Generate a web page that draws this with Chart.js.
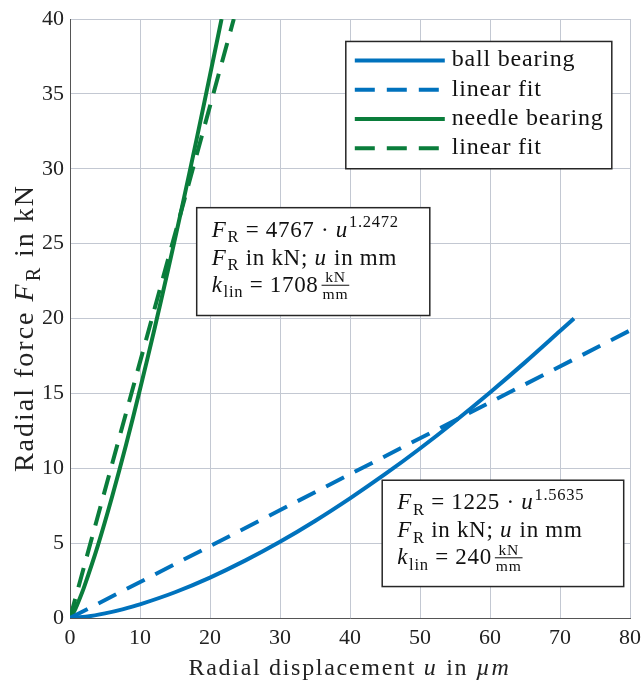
<!DOCTYPE html>
<html>
<head>
<meta charset="utf-8">
<script src="https://cdn.jsdelivr.net/npm/chart.js@4"></script>
<style>
  html, body { margin: 0; padding: 0; background: #fff; }
  #wrap { width: 641px; height: 680px; }
</style>
</head>
<body>
<div id="wrap"><canvas id="forceChart" width="641" height="680"></canvas></div>
<script>
// Data (u in µm, F in kN)
const ballU = [0, 2.5, 5, 7.5, 10, 15, 20, 25, 30, 35, 40, 45, 50, 55, 60, 65, 70, 72];
const ballF = [0, 0.10, 0.31, 0.58, 0.91, 1.72, 2.70, 3.83, 5.09, 6.48, 7.99, 9.60, 11.32, 13.14, 15.06, 17.07, 19.16, 20.0];
const ballFitU = [0, 80];
const ballFitF = [0, 19.2];
const needleU = [0, 0.5, 1, 2, 4, 6, 8, 10, 12, 14, 16, 18, 20, 21.65];
const needleF = [0, 0.36, 0.86, 2.05, 4.87, 8.08, 11.56, 15.27, 19.17, 23.23, 27.44, 31.78, 36.25, 40];
const needleFitU = [0, 23.4];
const needleFitF = [0, 40];

const xTicks = [0, 10, 20, 30, 40, 50, 60, 70, 80];
const yTicks = [0, 5, 10, 15, 20, 25, 30, 35, 40];

const blue = '#0072bd';
const green = '#0a7d3b';
const serif = '"Liberation Serif", "DejaVu Serif", serif';

function toPoints(xs, ys) {
    return xs.map((x, i) => ({ x: x, y: ys[i] }));
}

// draw a line of mixed text: segments {t, it, sub, sup, frac}; returns end x
function richText(ctx, x, y, segs, size, spacing) {
    ctx.letterSpacing = (spacing || 0) + 'px';
    segs.forEach(s => {
        let fs = size;
        let dy = 0;
        if (s.sub) { fs = size * 0.72; dy = size * 0.25; }
        if (s.sup) { fs = size * 0.72; dy = -size * 0.42; }
        if (s.frac) {
            const fsz = size * 0.68;
            ctx.font = fsz + 'px ' + serif;
            const w = Math.max(ctx.measureText(s.frac[0]).width, ctx.measureText(s.frac[1]).width) + 2;
            const mid = y - size * 0.28;
            ctx.textAlign = 'center';
            ctx.fillText(s.frac[0], x + 3 + w / 2, mid - 3);
            ctx.fillText(s.frac[1], x + 3 + w / 2, mid + fsz * 0.85);
            ctx.textAlign = 'left';
            ctx.fillRect(x + 3, mid - 0.5, w, 1);
            x += w + 5;
            return;
        }
        ctx.font = (s.it ? 'italic ' : '') + fs + 'px ' + serif;
        ctx.fillText(s.t, x, y + dy);
        x += ctx.measureText(s.t).width + (s.it ? 1 : 0);
    });
    ctx.letterSpacing = '0px';
    return x;
}

function richWidth(ctx, segs, size, spacing) {
    ctx.save();
    ctx.globalAlpha = 0;
    const w = richText(ctx, 0, -1000, segs, size, spacing);
    ctx.restore();
    return w;
}

function drawBox(ctx, l, t, r, b) {
    ctx.fillStyle = '#fff';
    ctx.fillRect(l, t, r - l, b - t);
    ctx.strokeStyle = '#262626';
    ctx.lineWidth = 1.5;
    ctx.strokeRect(l, t, r - l, b - t);
}

function fitBox(ctx, xs, ys, coef, expo, klin) {
    const l = xs.getPixelForValue(coef.u0), r = xs.getPixelForValue(coef.u1);
    const t = ys.getPixelForValue(coef.f0), b = ys.getPixelForValue(coef.f1);
    drawBox(ctx, l, t, r, b);
    ctx.fillStyle = '#111';
    ctx.textBaseline = 'alphabetic';
    ctx.textAlign = 'left';
    const size = 23;
    const sp = 0.7;
    const x0 = l + 15;
    richText(ctx, x0, t + 29, [
        { t: 'F', it: true }, { t: 'R', sub: true },
        { t: ' = ' + coef.a + ' · ' }, { t: 'u', it: true }, { t: expo, sup: true }
    ], size, sp);
    richText(ctx, x0, t + 57, [
        { t: 'F', it: true }, { t: 'R', sub: true },
        { t: ' in kN; ' }, { t: 'u', it: true }, { t: ' in mm' }
    ], size, sp);
    richText(ctx, x0, t + 84, [
        { t: 'k', it: true }, { t: 'lin', sub: true },
        { t: ' = ' + klin }, { frac: ['kN', 'mm'] }
    ], size, sp);
}

const decorPlugin = {
    id: 'decor',
    afterDatasetsDraw(chart) {
        const ctx = chart.ctx;
        const xs = chart.scales.x, ys = chart.scales.y;
        const area = chart.chartArea;
        ctx.save();

        // legend
        const lb = { l: xs.getPixelForValue(39.4), r: xs.getPixelForValue(77.4),
                     t: ys.getPixelForValue(38.5), b: ys.getPixelForValue(30.0) };
        drawBox(ctx, lb.l, lb.t, lb.r, lb.b);
        chart.data.datasets.forEach((ds, i) => {
            const yy = lb.t + 19 + i * 29.3;
            ctx.strokeStyle = ds.borderColor;
            ctx.lineWidth = 4;
            ctx.setLineDash(ds.borderDash || []);
            ctx.beginPath();
            ctx.moveTo(lb.l + 9, yy);
            ctx.lineTo(lb.l + 99, yy);
            ctx.stroke();
            ctx.setLineDash([]);
            ctx.fillStyle = '#111';
            ctx.textAlign = 'left';
            ctx.textBaseline = 'alphabetic';
            richText(ctx, lb.l + 106, yy + 6, [{ t: ds.label }], 24, 0.8);
        });

        // fit annotation boxes
        fitBox(ctx, xs, ys, { u0: 18.1, u1: 51.4, f0: 27.4, f1: 20.2, a: '4767' }, '1.2472', '1708');
        fitBox(ctx, xs, ys, { u0: 44.6, u1: 79.1, f0: 9.2, f1: 2.1, a: '1225' }, '1.5635', '240');

        // axis titles
        ctx.fillStyle = '#222';
        ctx.textBaseline = 'alphabetic';
        const xt = [
            { t: 'Radial displacement ' }, { t: 'u', it: true }, { t: ' in ' }, { t: 'µm', it: true }
        ];
        let w = richWidth(ctx, xt, 24, 1.7);
        richText(ctx, (area.left + area.right) / 2 - w / 2, 675, xt, 24, 1.7);

        const yt = [
            { t: 'Radial force ' }, { t: 'F', it: true }, { t: 'R', sub: true }, { t: ' in kN' }
        ];
        w = richWidth(ctx, yt, 28, 2);
        ctx.translate(33, 328);
        ctx.rotate(-Math.PI / 2);
        richText(ctx, -w / 2, 0, yt, 28, 2);
        ctx.restore();
    }
};

const chart = new Chart(document.getElementById('forceChart'), {
    type: 'scatter',
    data: {
        datasets: [
            { label: 'ball bearing', data: toPoints(ballU, ballF), borderColor: blue },
            { label: 'linear fit', data: toPoints(ballFitU, ballFitF), borderColor: blue, borderDash: [20, 12] },
            { label: 'needle bearing', data: toPoints(needleU, needleF), borderColor: green },
            { label: 'linear fit', data: toPoints(needleFitU, needleFitF), borderColor: green, borderDash: [20, 12] }
        ].map(ds => Object.assign(ds, {
            showLine: true,
            pointRadius: 0,
            borderWidth: 4,
            tension: 0.3,
            fill: false
        }))
    },
    options: {
        responsive: false,
        animation: false,
        layout: { padding: { left: 0, right: 0, top: 19, bottom: 0 } },
        plugins: { legend: { display: false }, tooltip: { enabled: false } },
        scales: {
            x: {
                type: 'linear', min: 0, max: 80,
                afterBuildTicks: s => { s.ticks = xTicks.map(v => ({ value: v })); },
                afterFit: s => { s.height = 62; s.paddingLeft = 0; s.paddingRight = 11; },
                grid: { color: '#c3c8d2', drawTicks: false },
                border: { color: '#555', width: 1 },
                ticks: { color: '#222', padding: 7, maxRotation: 0, font: { family: serif, size: 22 } }
            },
            y: {
                type: 'linear', min: 0, max: 40,
                afterBuildTicks: s => { s.ticks = yTicks.map(v => ({ value: v })); },
                afterFit: s => { s.width = 70; s.paddingTop = 0; s.paddingBottom = 0; },
                grid: { color: '#c3c8d2', drawTicks: false },
                border: { color: '#555', width: 1 },
                ticks: { color: '#222', padding: 6, font: { family: serif, size: 22 } }
            }
        }
    },
    plugins: [decorPlugin]
});
</script>
</body>
</html>
